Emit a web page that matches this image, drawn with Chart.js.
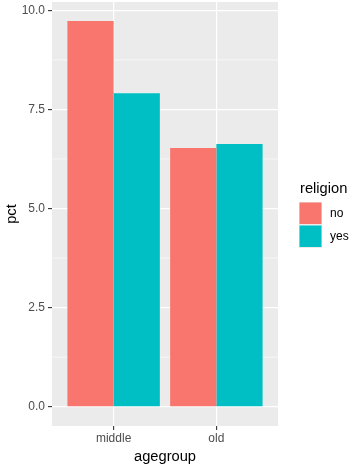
<!DOCTYPE html>
<html>
<head>
<meta charset="utf-8">
<script src="https://cdn.jsdelivr.net/npm/chart.js@4"></script>
<style>
  html, body { margin: 0; padding: 0; background: #fff; }
  #wrap { width: 360px; height: 467px; }
</style>
</head>
<body>
<div id="wrap"><canvas id="chart" width="360" height="467"></canvas></div>
<script>
// values
const categories = ['middle', 'old'];
const noValues = [9.73, 6.53];
const yesValues = [7.91, 6.63];
const yTicks = [0, 2.5, 5, 7.5, 10];
const yMinor = [1.25, 3.75, 6.25, 8.75];
const seriesNames = ['no', 'yes'];
const seriesColors = ['#F8766D', '#00BFC4'];

const FONT = '"Liberation Sans", Arial, sans-serif';

// grey panel + minor grid, axis titles and legend like ggplot
const ggPanel = {
    id: 'ggPanel',
    beforeDraw(chart) {
        const { ctx, chartArea: a, scales } = chart;
        ctx.save();
        ctx.fillStyle = '#EBEBEB';
        ctx.fillRect(a.left, a.top, a.right - a.left, a.bottom - a.top);
        ctx.strokeStyle = '#FFFFFF';
        ctx.lineWidth = 0.6;
        yMinor.forEach(v => {
            const y = scales.y.getPixelForValue(v);
            ctx.beginPath();
            ctx.moveTo(a.left, y);
            ctx.lineTo(a.right, y);
            ctx.stroke();
        });
        ctx.restore();
    },
    afterDraw(chart) {
        const { ctx, chartArea: a } = chart;
        ctx.save();
        ctx.fillStyle = '#000';
        ctx.font = '14.7px ' + FONT;
        ctx.textAlign = 'center';
        ctx.textBaseline = 'alphabetic';
        ctx.fillText('agegroup', (a.left + a.right) / 2, 461);

        ctx.save();
        ctx.translate(16, (a.top + a.bottom) / 2);
        ctx.rotate(-Math.PI / 2);
        ctx.fillText('pct', 0, 0);
        ctx.restore();

        // legend
        ctx.textAlign = 'left';
        ctx.fillText('religion', 300, 193);
        ctx.font = '12px ' + FONT;
        seriesNames.forEach((name, i) => {
            const top = 202 + i * 23;
            ctx.fillStyle = '#EBEBEB';
            ctx.fillRect(299, top, 23, 23);
            ctx.fillStyle = seriesColors[i];
            ctx.fillRect(299.5, top + 0.5, 22, 21.5);
            ctx.fillStyle = '#000';
            ctx.textBaseline = 'middle';
            ctx.fillText(name, 330, top + 12);
        });
        ctx.restore();
    }
};

new Chart(document.getElementById('chart'), {
    type: 'bar',
    data: {
        labels: categories,
        datasets: [
            { label: seriesNames[0], data: noValues, backgroundColor: seriesColors[0] },
            { label: seriesNames[1], data: yesValues, backgroundColor: seriesColors[1] }
        ]
    },
    options: {
        responsive: false,
        animation: false,
        events: [],
        layout: { padding: { left: 0, right: 82, top: 2, bottom: 0 } },
        datasets: { bar: { categoryPercentage: 0.9, barPercentage: 1.0 } },
        plugins: { legend: { display: false }, tooltip: { enabled: false } },
        scales: {
            x: {
                offset: true,
                afterBuildTicks(scale) {
                    // ggplot discrete expansion: 0.6 of a category each side
                    scale._startValue = -0.6;
                    scale._valueRange = 2.2;
                },
                afterFit(scale) {
                    scale.height = 41;
                    scale.paddingLeft = 0;
                    scale.paddingRight = 0;
                },
                grid: {
                    offset: false,
                    color: '#FFFFFF',
                    lineWidth: 1.2,
                    tickColor: '#333333',
                    tickWidth: 1.1,
                    tickLength: 4
                },
                border: { display: false },
                ticks: { color: '#4D4D4D', font: { family: FONT, size: 12 }, padding: 1 }
            },
            y: {
                min: -0.486,
                max: 10.21,
                afterBuildTicks(scale) {
                    scale.ticks = yTicks.map(v => ({ value: v }));
                },
                afterFit(scale) {
                    scale.width = 52;
                    scale.paddingTop = 0;
                    scale.paddingBottom = 0;
                },
                grid: {
                    color: '#FFFFFF',
                    lineWidth: 1.2,
                    tickColor: '#333333',
                    tickWidth: 1.1,
                    tickLength: 4
                },
                border: { display: false },
                ticks: {
                    color: '#4D4D4D',
                    font: { family: FONT, size: 12 },
                    padding: 3,
                    callback: v => Number(v).toFixed(1)
                }
            }
        }
    },
    plugins: [ggPanel]
});
</script>
</body>
</html>
